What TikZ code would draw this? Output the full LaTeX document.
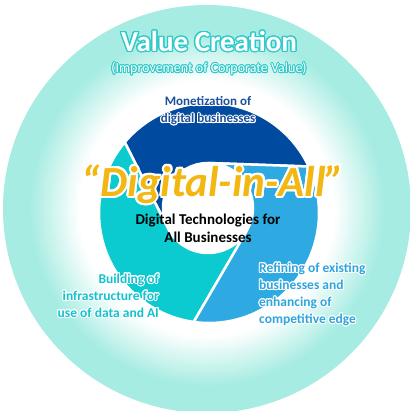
\documentclass[tikz,border=0pt]{standalone}
\usepackage{fontspec}
\setmainfont{Carlito}
\usepackage{contour}
\usetikzlibrary{positioning, calc}

\definecolor{aqua}{HTML}{A6ECE2}
\definecolor{glowteal}{HTML}{2CCACA}
\definecolor{ringnavy}{HTML}{004A9F}
\definecolor{ringteal}{HTML}{0BCAD0}
\definecolor{ringsky}{HTML}{2FA9E1}
\definecolor{navytext}{HTML}{1D4F9C}
\definecolor{tealtext}{HTML}{12C3CF}
\definecolor{skytext}{HTML}{2FA5DE}
\definecolor{gold}{HTML}{F3B714}

\begin{document}
\begin{tikzpicture}[x=1pt,y=1pt,
  title/.style={text=white, inner sep=0pt, font=\bfseries\fontsize{29}{32}\selectfont},
  subtitle/.style={text=white, inner sep=0pt, font=\fontsize{14}{16}\selectfont},
  ringlabel/.style={inner sep=0pt, font=\bfseries\fontsize{13.5}{17}\selectfont},
  motto/.style={text=gold, inner sep=0pt, font=\bfseries\itshape\fontsize{43}{48}\selectfont},
  segment/.style={draw=white, line width=2.5pt, line join=round}]
  \useasboundingbox (0,0) rectangle (410,411);
  \clip (0,0) rectangle (410,411);

  % outer disc, aqua at the rim fading to white inside
  \coordinate (bg) at (207,202);
  \fill[aqua] (bg) circle[radius=204];
  \foreach \k in {0,...,50}{
    \pgfmathtruncatemacro\p{100-2*\k}
    \fill[aqua!\p] (bg) circle[radius=178-\k];
  }

  % three ring segments round the hole
  \coordinate (o) at (209,198);
  \coordinate (h) at (208,203);
  \def\R{110}
  \def\r{45}
  \foreach \a/\b/\p/\q/\c in {25/140/210/90/ringnavy, 140/262/330/210/ringteal, 262/385/90/-30/ringsky}
    \fill[segment, fill=\c] ($(o)+(\a:\R)$) arc[start angle=\a, end angle=\b, radius=\R]
      -- ($(h)+(\p:\r)$) arc[start angle=\p, end angle=\q, radius=\r] -- cycle;

  % headings
  \contourlength{1.3pt}
  \node[title] (value) at (209,369) {\contour{glowteal}{Value Creation}};
  \node[subtitle, below=9pt of value] (corp) {\contourlength{0.8pt}\contour{glowteal}{(Improvement of Corporate Value)}};

  % labels round the ring
  \contourlength{1pt}
  \node[ringlabel, text=navytext, align=center, font=\bfseries\fontsize{13}{17}\selectfont] (monet) at (208,299.5)
    {\contour{white}{Monetization of}\\\contour{white}{digital businesses}};
  \node[ringlabel, text=tealtext, align=right, anchor=east] (infra) at (159,115)
    {\contour{white}{Building of}\\\contour{white}{infrastructure for}\\\contour{white}{use of data and AI}};
  \node[ringlabel, text=skytext, align=left, anchor=west] (refine) at (259,116)
    {\contour{white}{Refining of existing}\\\contour{white}{businesses and}\\\contour{white}{enhancing of}\\\contour{white}{competitive edge}};

  % centre
  \node[motto] (motto) at (213,226) {\contourlength{2pt}\contour{white}{“Digital-in-All”}};
  \node[ringlabel, align=center, font=\bfseries\fontsize{15}{18}\selectfont] (tech) at (208,183)
    {Digital Technologies for\\All Businesses};
\end{tikzpicture}
\end{document}
